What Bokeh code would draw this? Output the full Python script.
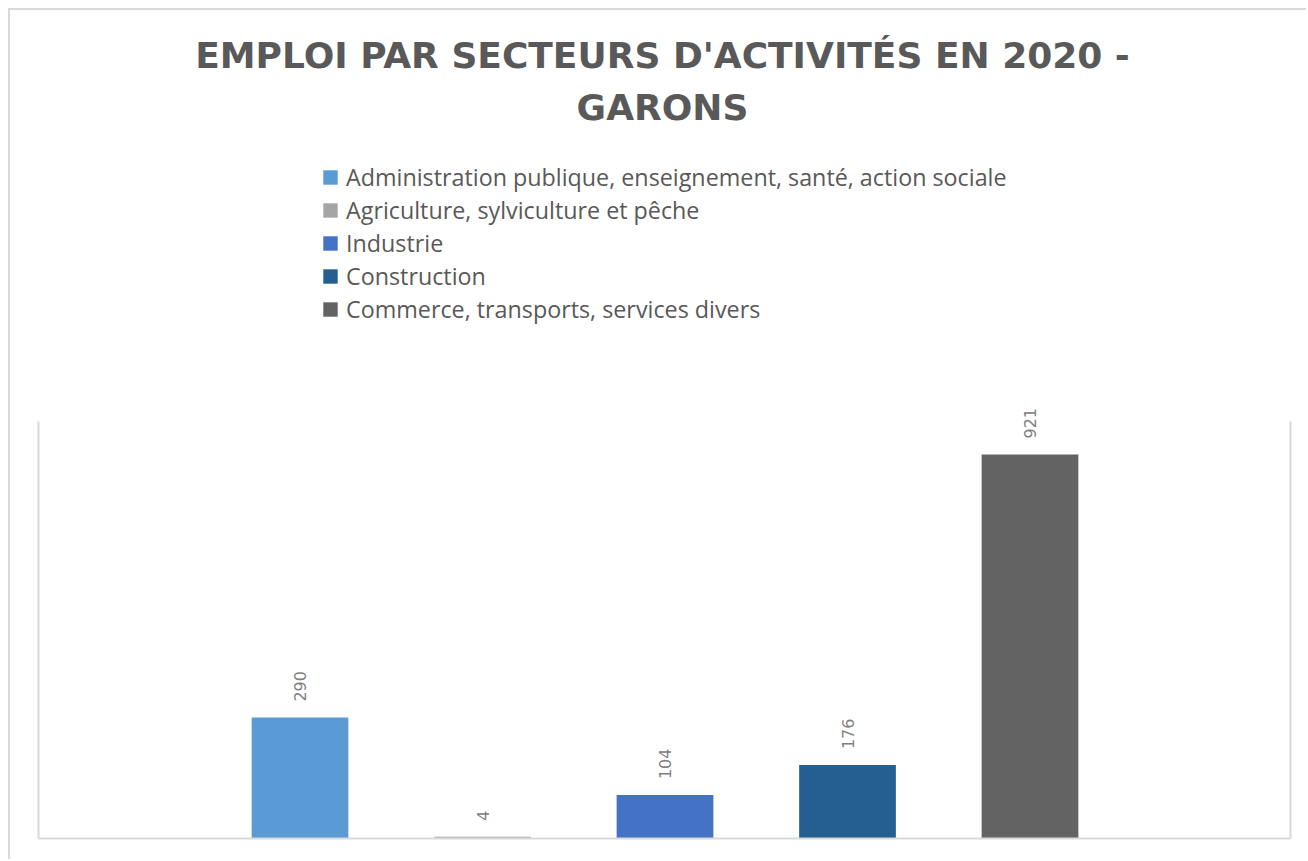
import math
from bokeh.plotting import figure
from bokeh.models import ColumnDataSource, Range1d, LinearAxis, FixedTicker, Label
from bokeh.core.properties import value
from bokeh.embed import file_html
from bokeh.resources import INLINE

categories = [
    "Administration publique, enseignement, santé, action sociale",
    "Agriculture, sylviculture et pêche",
    "Industrie",
    "Construction",
    "Commerce, transports, services divers",
]
values = [290, 4, 104, 176, 921]
colors = ["#5B9BD5", "#A5A5A5", "#4472C4", "#255E91", "#636363"]
title_lines = ["EMPLOI PAR SECTEURS D'ACTIVITÉS EN 2020 -", "GARONS"]

positions = list(range(len(categories)))
src = ColumnDataSource(dict(
    x=positions, top=values, color=colors, cat=categories,
    label=[str(v) for v in values],
))

W, H = 1298, 851
X_MIN, X_MAX = -1.5863, 5.526
Y_MIN, Y_MAX = -55.2, 1985.9
AREA_L, AREA_R = -1.4329, 5.4274
AREA_TOP = 1000

p = figure(width=W, height=H, output_backend="svg", toolbar_location=None,
           x_range=Range1d(X_MIN, X_MAX), y_range=Range1d(Y_MIN, Y_MAX),
           min_border=0)
p.styles = {"margin-left": "8px", "margin-top": "8px",
            "border-top": "2px solid #d9d9d9", "border-left": "2px solid #d9d9d9"}
p.outline_line_color = None
p.xgrid.visible = False
p.ygrid.visible = False

def style_axis(ax):
    ax.ticker = FixedTicker(ticks=[])
    ax.axis_line_color = "#d9d9d9"
    ax.axis_line_width = 2
    ax.major_tick_out = 0
    ax.minor_tick_out = 0
    ax.major_label_standoff = 0

style_axis(p.xaxis[0])
p.xaxis[0].fixed_location = 0
p.xaxis[0].bounds = (AREA_L, AREA_R)
style_axis(p.yaxis[0])
p.yaxis[0].fixed_location = AREA_L
p.yaxis[0].bounds = (0, AREA_TOP)

rax = LinearAxis()
style_axis(rax)
rax.fixed_location = AREA_R
rax.bounds = (0, AREA_TOP)
p.add_layout(rax, "right")

p.vbar(x="x", top="top", width=0.53, fill_color="color", line_color=None,
       source=src, legend_field="cat")

p.text(x="x", y="top", text="label", source=src, angle=math.pi / 2,
       text_align="left", text_baseline="middle", y_offset=-16,
       text_font=value("DejaVu Sans"), text_font_size="16px",
       text_color="#808080")

leg = p.legend[0]
leg.location = (311, 536)
leg.padding = 0
leg.margin = 0
leg.spacing = 0
leg.border_line_color = None
leg.background_fill_alpha = 0
leg.glyph_width = 18
leg.glyph_height = 18
leg.label_height = 33
leg.label_standoff = 7
leg.label_text_font = "Open Sans"
leg.label_text_font_size = "23.3px"
leg.label_text_color = "#595959"

for txt, y in zip(title_lines, [806, 754]):
    p.add_layout(Label(x=652, y=y, x_units="screen", y_units="screen",
                       text=txt, text_align="center", text_baseline="alphabetic",
                       text_font="DejaVu Sans", text_font_style="bold",
                       text_font_size="36px", text_color="#595959"))

open("out.html", "w").write(file_html(p, INLINE))
